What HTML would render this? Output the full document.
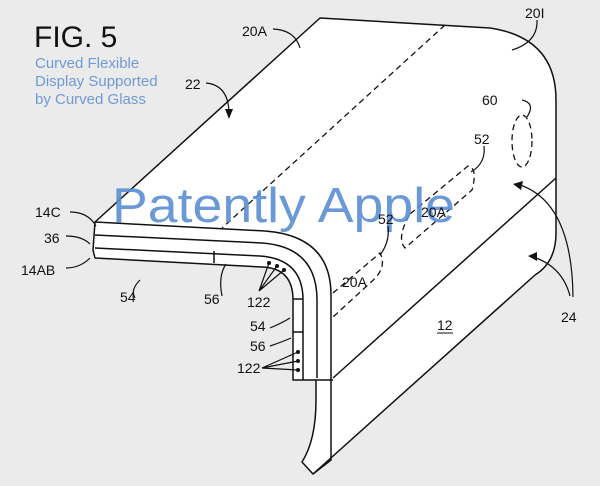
<!DOCTYPE html>
<html><head><style>
html,body{margin:0;padding:0;background:#ebebeb;}
svg{display:block;}
text{font-family:"Liberation Sans",sans-serif;fill:#111;}
</style></head><body>
<svg width="600" height="486" viewBox="0 0 600 486" xmlns="http://www.w3.org/2000/svg">
<rect width="600" height="486" fill="#ebebeb"/>
<g stroke="#111" stroke-width="1.5" fill="#fff" stroke-linejoin="round">
<path d="M320,18 L490,28 Q556,38 556,100 L556,233 Q556,262 535,275 L313,474 L302,462 Q316,440 316,400 L316,380 L293,380 L293,300 Q293,268 262,267 L95,258 L93,250 L95,222 Z"/>
<path d="M556,178 L333,378" fill="none"/>
<path d="M95,222 L265,231 Q331,236 331,295 L331,460 L313,474" fill="none"/>
<path d="M95,235 L262,243 Q317,247 317,300 L317,378" fill="none"/>
<path d="M95,248 L260,256 Q303,259 303,300 L303,380" fill="none"/>
<path d="M316,380 L333,380" fill="none"/>
<path d="M214,251 L214,263" fill="none"/>
<path d="M293,299 L303,299 M293,332 L303,332" fill="none"/>
</g>
<g fill="none" stroke="#111" stroke-width="1.3" stroke-dasharray="6,4">
<path d="M445,25 L222,228"/>
<path d="M333,293 L380,253 Q388,268 370,283 L333,317"/>
<path d="M410,214 L468,166 Q478,168 472,190 L405,248 Q396,238 410,214"/>
<ellipse cx="522" cy="141" rx="10" ry="26"/>
</g>
<text x="112" y="222" font-size="49" style="fill:#5b8fd3;opacity:0.9" textLength="343" lengthAdjust="spacingAndGlyphs">Patently Apple</text>
<g fill="none" stroke="#111" stroke-width="1.2">
<path d="M273,29 Q295,30 300,48"/>
<path d="M206,83 Q228,85 229,112"/>
<path d="M537,20 Q538,42 512,50"/>
<path d="M522,100 Q536,103 527,117"/>
<path d="M484,146 Q486,163 471,172"/>
<path d="M388,226 Q390,242 380,255"/>
<path d="M573,297 Q572,200 517,184"/>
<path d="M570,296 Q562,265 530,256"/>
<path d="M70,212 Q88,212 96,226"/>
<path d="M66,236 Q82,236 90,244"/>
<path d="M66,268 Q80,268 90,258"/>
<path d="M140,280 Q130,290 135,298"/>
<path d="M226,264 Q218,276 222,296"/>
<path d="M259,291 L269,263 M259,291 L277,266 M259,291 L284,270"/>
<path d="M270,328 Q282,323 290,318"/>
<path d="M270,346 Q282,342 291,338"/>
<path d="M262,368 L298,352 M262,368 L298,361 M262,368 L298,370"/>
</g>
<g fill="#111">
<path d="M229,119 L225,109 L233,109 Z"/>
<path d="M513,184 L523,181 L521,190 Z"/>
<path d="M528,256 L537,252 L537,261 Z"/>
<circle cx="269" cy="263" r="2"/><circle cx="277" cy="266" r="2"/><circle cx="284" cy="270" r="2"/>
<circle cx="298" cy="352" r="2"/><circle cx="298" cy="361" r="2"/><circle cx="298" cy="370" r="2"/>
</g>
<text x="34" y="47" font-size="30">FIG. 5</text>
<g font-size="15">
<text x="35" y="68" style="fill:#6f9ad6">Curved Flexible</text>
<text x="35" y="86" style="fill:#6f9ad6">Display Supported</text>
<text x="35" y="104" style="fill:#6f9ad6">by Curved Glass</text>
</g>
<g font-size="14">
<text x="242" y="36">20A</text>
<text x="185" y="89">22</text>
<text x="525" y="18">20I</text>
<text x="482" y="105">60</text>
<text x="474" y="144">52</text>
<text x="378" y="224">52</text>
<text x="421" y="217">20A</text>
<text x="342" y="287">20A</text>
<text x="35" y="217">14C</text>
<text x="44" y="243">36</text>
<text x="21" y="275">14AB</text>
<text x="120" y="302">54</text>
<text x="204" y="304">56</text>
<text x="247" y="307">122</text>
<text x="250" y="331">54</text>
<text x="250" y="351">56</text>
<text x="237" y="373">122</text>
<text x="561" y="322">24</text>
<text x="437" y="330">12</text>
</g>
<path d="M437,333 L453,333" stroke="#111" stroke-width="1"/>
</svg>
</body></html>
